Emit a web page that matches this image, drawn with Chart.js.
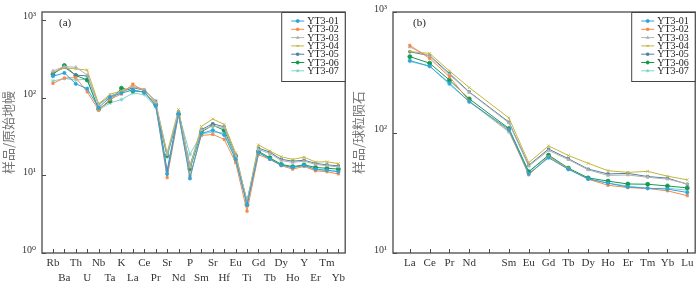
<!DOCTYPE html>
<html>
<head>
<meta charset="utf-8">
<script src="https://cdn.jsdelivr.net/npm/chart.js@4.4.1/dist/chart.umd.min.js"></script>
<style>
  html, body { margin: 0; padding: 0; background: #fff; }
  .wrap { display: flex; width: 700px; height: 281px; }
  .panel { position: relative; width: 350px; height: 281px; }
</style>
</head>
<body>
<div class="wrap">
  <div class="panel"><canvas id="chartA" width="350" height="281"></canvas></div>
  <div class="panel"><canvas id="chartB" width="350" height="281"></canvas></div>
</div>
<script>
// ---- data ----
const seriesNames = ['YT3-01', 'YT3-02', 'YT3-03', 'YT3-04', 'YT3-05', 'YT3-06', 'YT3-07'];

// (a) primitive mantle normalised spider diagram
const elementsA = ['Rb', 'Ba', 'Th', 'U', 'Nb', 'Ta', 'K', 'La', 'Ce', 'Pr', 'Sr', 'Nd', 'P', 'Sm',
                   'Sr', 'Hf', 'Eu', 'Ti', 'Gd', 'Tb', 'Dy', 'Ho', 'Y', 'Er', 'Tm', 'Yb'];
const yt301A = [188, 207, 150, 130, 74, 101, 114, 125, 117, 78, 10.4, 62, 9.1, 34.5, 38, 33, 16, 4.2, 19.5, 16.2, 13.5, 12.6, 13.4, 12, 11.6, 11.1];
const yt302A = [152, 178, 180, 118, 69, 95, 111, 149, 120, 80, 9.3, 60, 9.8, 32.5, 33.5, 29, 14.6, 3.45, 18.4, 16, 13.3, 12, 13, 11.4, 11.1, 10.4];
const yt303A = [220, 250, 245, 195, 80, 104, 118, 138, 126, 88, 18.4, 64, 12.8, 38, 43, 41, 17.8, 4.6, 21.5, 19, 15.5, 14.6, 15.2, 13.8, 13.3, 12.8];
const yt304A = [212, 240, 234, 225, 83, 110, 122, 138, 128, 85, 19.4, 70, 12.6, 42.5, 53, 45, 19.4, 4.5, 24.6, 20.5, 17.3, 16, 17.1, 14.8, 14.9, 14.1];
const yt305A = [203, 245, 194, 190, 81, 104, 118, 134, 124, 90, 11.5, 66, 13.3, 38.7, 46, 42, 18.4, 4.4, 22.4, 19.8, 16, 15.2, 15.6, 14.2, 13.6, 13.2];
const yt306A = [199, 258, 192, 168, 71, 90, 132, 122, 118, 81, 18, 61, 12, 36.2, 44, 38, 17.6, 4.15, 20.3, 16.8, 13.8, 12.9, 13.6, 12.6, 12.3, 12];
const yt307A = [163, 176, 168, 172, 69, 85, 94, 114, 109, 76, 17, 63, 18.5, 34, 36, 35, 16.5, 4.8, 20, 16.4, 13.6, 12.6, 13.3, 11.8, 11.5, 11.3];

// (b) chondrite normalised REE pattern (Pm has no value)
const elementsB = ['La', 'Ce', 'Pr', 'Nd', '', 'Sm', 'Eu', 'Gd', 'Tb', 'Dy', 'Ho', 'Er', 'Tm', 'Yb', 'Lu'];
const yt301B = [395, 355, 256, 180, null, 106, 45.5, 61.7, 49.5, 41.2, 38, 35.3, 34.5, 33.9, 31.8];
const yt302B = [529, 412, 290, 182, null, 103, 44.5, 63, 50, 41, 36.5, 34.9, 34.3, 32.8, 29.9];
const yt303B = [512, 428, 302, 215, null, 120, 52.5, 71, 59.5, 49, 44, 44.4, 42.5, 41, 37.5];
const yt304B = [470, 453, 324, 236, null, 132, 56.2, 77.5, 64.4, 55.5, 48.2, 46.7, 47.6, 43.4, 40.5];
const yt305B = [467, 434, 309, 217, null, 122, 53.5, 72.9, 60.6, 49.7, 45.3, 45.8, 43.1, 41.8, 37.2];
const yt306B = [426, 376, 272, 190, null, 108, 47.3, 64.9, 50.6, 42, 39.5, 37.4, 37.2, 36, 34.7];
const yt307B = [388, 355, 251, 180, null, 101, 47, 63.5, 50.2, 41.2, 37.9, 36, 34.3, 34.5, 33.2];

// ---- styles ----
const colors = ['#2ea3dc', '#f58a4c', '#b4b4b4', '#c4b53c', '#4d7fa3', '#17994c', '#80d2cf'];
const markers = ['circle', 'rect', 'triangle', 'crossRot', 'rect', 'circle', 'star'];
const radii   = [1.6, 1.6, 1.7, 2, 1.6, 2, 2];
const SERIF = '"Liberation Serif", "DejaVu Serif", serif';
const SUP = { 0: '\u2070', 1: '\u00b9', 2: '\u00b2', 3: '\u00b3' };

function buildDatasets(rows) {
  return rows.map((vals, i) => ({
    label: seriesNames[i],
    data: vals.map((v, k) => ({ x: k, y: v })),
    borderColor: colors[i],
    backgroundColor: colors[i],
    borderWidth: 1,
    pointStyle: markers[i],
    pointRadius: radii[i],
    pointBorderWidth: 0.8,
    spanGaps: true,
    tension: 0,
  }));
}

// frame, inside ticks, panel tag and boxed legend
const decorPlugin = {
  id: 'decor',
  afterDraw(chart) {
    const { ctx, chartArea: a, scales } = chart;
    const cfg = chart.options.plugins.decor;
    ctx.save();
    ctx.strokeStyle = '#4a4a4a';
    ctx.lineWidth = 1;
    ctx.beginPath();
    scales.x.ticks.forEach(t => {
      const px = Math.round(scales.x.getPixelForValue(t.value)) + 0.5;
      ctx.moveTo(px, a.bottom);
      ctx.lineTo(px, a.bottom - 4);
    });
    scales.y.ticks.forEach(t => {
      const py = Math.round(scales.y.getPixelForValue(t.value)) + 0.5;
      ctx.moveTo(a.left, py);
      ctx.lineTo(a.left + 4, py);
    });
    ctx.stroke();
    ctx.lineWidth = 1.3;
    ctx.strokeRect(a.left, a.top, a.right - a.left, a.bottom - a.top);

    ctx.fillStyle = '#222';
    ctx.font = '11px ' + SERIF;
    ctx.textBaseline = 'middle';
    ctx.fillText(cfg.tag, a.left + cfg.tagDx, a.top + 11);

    // legend box
    const bx = a.right - 64, by = a.top, bw = 64, bh = 69;
    ctx.fillStyle = '#fff';
    ctx.fillRect(bx, by, bw, bh);
    ctx.lineWidth = 1;
    ctx.strokeStyle = '#444';
    ctx.strokeRect(bx + 0.5, by + 0.5, bw - 0.5, bh);
    ctx.font = '10px ' + SERIF;
    chart.data.datasets.forEach((ds, i) => {
      const ly = by + 9 + i * 8.3;
      ctx.strokeStyle = ds.borderColor;
      ctx.lineWidth = 1;
      ctx.beginPath();
      ctx.moveTo(bx + 10, ly);
      ctx.lineTo(bx + 23, ly);
      ctx.stroke();
      ctx.fillStyle = ds.backgroundColor;
      Chart.helpers.drawPoint(ctx, { pointStyle: ds.pointStyle, radius: 1.5, rotation: 0, borderWidth: 0.8 }, bx + 16.5, ly);
      ctx.fillStyle = '#222';
      ctx.fillText(ds.label, bx + 26, ly + 0.5);
    });
    ctx.restore();
  },
};

function makePanel(id, labels, rows, o) {
  return new Chart(document.getElementById(id), {
    type: 'line',
    data: { datasets: buildDatasets(rows) },
    plugins: [decorPlugin],
    options: {
      responsive: false,
      animation: false,
      layout: { padding: { top: 5, right: 2, left: 0, bottom: 0 } },
      plugins: {
        legend: { display: false },
        tooltip: { enabled: false },
        decor: { tag: o.tag, tagDx: o.tagDx },
      },
      scales: {
        x: {
          type: 'linear',
          min: o.xMin, max: o.xMax,
          afterBuildTicks: s => { s.ticks = labels.map((_, k) => ({ value: k })); },
          afterFit: s => { s.height = 28; },
          grid: { display: false, drawTicks: false },
          border: { display: false },
          ticks: {
            autoSkip: false, maxRotation: 0, padding: 3,
            color: '#333',
            font: { family: SERIF, size: 11, lineHeight: 1.35 },
            callback: v => {
              const lab = labels[v] || '';
              if (!o.stagger) return lab;
              return v % 2 === 0 ? [lab] : ['', lab];
            },
          },
        },
        y: {
          type: 'logarithmic',
          min: o.yMin, max: o.yMax,
          afterBuildTicks: s => { s.ticks = o.decades.map(v => ({ value: v, major: true })); },
          afterFit: s => { s.width = o.yWidth; },
          grid: { display: false, drawTicks: false },
          border: { display: false },
          ticks: {
            padding: 6, color: '#333', labelOffset: -3,
            font: { family: SERIF, size: 10 },
            callback: v => '10' + SUP[Math.round(Math.log10(v))],
          },
          title: {
            display: true, text: o.yTitle, color: '#777', padding: 0,
            font: { family: '"Noto Sans CJK SC", sans-serif', size: 13 },
          },
        },
      },
    },
  });
}

makePanel('chartA', elementsA, [yt301A, yt302A, yt303A, yt304A, yt305A, yt306A, yt307A], {
  tag: '(a)', tagDx: 17, stagger: true,
  xMin: -0.96, xMax: 25.6, yMin: 1, yMax: 1259, decades: [1, 10, 100, 1000],
  yWidth: 42, yTitle: '样品/原始地幔',
});
makePanel('chartB', elementsB, [yt301B, yt302B, yt303B, yt304B, yt305B, yt306B, yt307B], {
  tag: '(b)', tagDx: 20, stagger: false,
  xMin: -0.85, xMax: 14.4, yMin: 10, yMax: 1000, decades: [10, 100, 1000],
  yWidth: 43, yTitle: '样品/球粒陨石',
});
</script>
</body>
</html>
